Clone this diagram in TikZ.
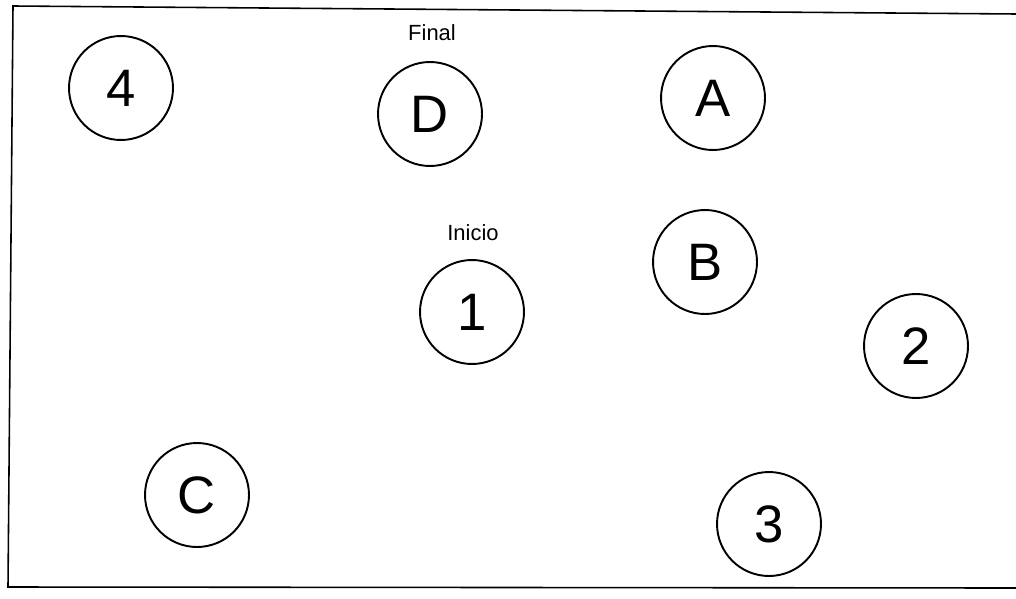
\documentclass[tikz,border=0pt]{standalone}
\usepackage{fontspec}
\setmainfont{Liberation Sans}
\usepackage{tikz}

\tikzset{
    punto/.style={draw,circle,line width=1.1pt,minimum size=2.08cm,inner sep=0pt,font=\fontsize{30}{31}\selectfont},
    rotulo/.style={font=\fontsize{12.5}{13}\selectfont}
}

\begin{document}
\begin{tikzpicture}[x=0.02cm,y=-0.02cm]
    \useasboundingbox(0,0)rectangle(1016,598);
    \coordinate(R0)at(13,6);
    \coordinate(R1)at(1016,14);
    \coordinate(R2)at(8,587);
    \coordinate(R3)at(1016,588);
    \draw[line width=0.9pt](R1)--(R0)--(R2)--(R3);
    \node[punto](c4)at(121,88){4};
    \node[punto](cD)at(430,114){D};
    \node[punto](cA)at(713,98){A};
    \node[punto](cB)at(705,262){B};
    \node[punto](c1)at(472,312){1};
    \node[punto](c2)at(916,346){2};
    \node[punto](cC)at(197,495){C};
    \node[punto](c3)at(769,524){3};
    \node[rotulo](final)at(432,33){Final};
    \node[rotulo](inicio)at(473,233){Inicio};
\end{tikzpicture}
\end{document}
